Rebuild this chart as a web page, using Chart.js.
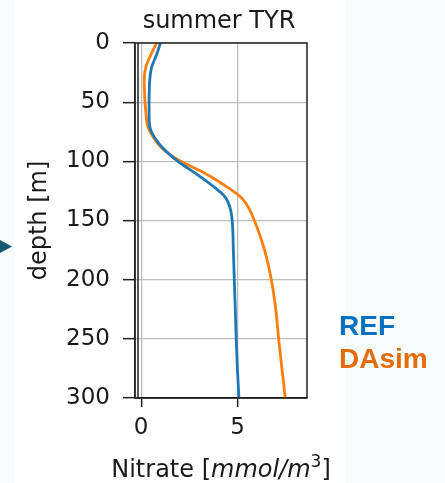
<!DOCTYPE html>
<html><head><meta charset="utf-8">
<script src="https://cdn.jsdelivr.net/npm/chart.js@4/dist/chart.umd.min.js"></script>
<style>html,body{margin:0;padding:0;background:#f7fcfd;overflow:hidden}canvas{display:block}</style>
</head><body>
<canvas id="c" width="445" height="483"></canvas>
<script>
// ---- data ----
const depths       = [0, 10, 20, 30, 40, 50, 60, 70, 80, 90, 100, 110, 120, 130, 140, 150, 175, 200, 225, 250, 275, 300];
const refNitrate   = [1.0, 0.8, 0.55, 0.45, 0.42, 0.41, 0.41, 0.44, 0.7, 1.2, 1.9, 2.8, 3.65, 4.35, 4.62, 4.72, 4.78, 4.83, 4.88, 4.93, 4.99, 5.07];
const dasimNitrate = [0.8, 0.5, 0.25, 0.16, 0.17, 0.2, 0.25, 0.33, 0.65, 1.15, 2.05, 3.3, 4.3, 5.15, 5.6, 5.87, 6.4, 6.75, 6.98, 7.13, 7.3, 7.47];
const depthTicks   = [0, 50, 100, 150, 200, 250, 300];
const nitrateTicks = [0, 5];
const seriesLabels = ['REF', 'DAsim'];
const chartTitle   = 'summer TYR';
const yAxisTitle   = 'depth [m]';
const xTitleParts  = ['Nitrate [', 'mmol/m', '3', ']'];

const TXT = '#1a1a1a';
const FONT = 'DejaVu Sans';

const bgPlugin = {
  id: 'bg',
  beforeDraw(chart) {
    const c = chart.ctx;
    c.save();
    c.fillStyle = '#f7fcfd';
    c.fillRect(0, 0, chart.width, chart.height);
    c.fillStyle = '#ffffff';
    c.fillRect(15, 0, 330, chart.height);
    // small arrow head at left edge
    c.fillStyle = '#175a6f';
    c.beginPath();
    c.moveTo(0, 240); c.lineTo(12, 246.5); c.lineTo(0, 253); c.closePath();
    c.fill();
    c.restore();
  }
};

const framePlugin = {
  id: 'frame',
  afterDraw(chart) {
    const a = chart.chartArea, c = chart.ctx;
    c.save();
    c.strokeStyle = '#222';
    c.lineWidth = 1.5;
    c.strokeRect(a.left, a.top, a.right - a.left, a.bottom - a.top);
    c.beginPath();
    c.moveTo(a.left + 3, a.top); c.lineTo(a.left + 3, a.bottom);
    c.stroke();
    const size = 24;
    const fN = size + 'px "' + FONT + '"';
    const fI = 'italic ' + size + 'px "' + FONT + '"';
    const fS = Math.round(size * 0.7) + 'px "' + FONT + '"';
    c.fillStyle = TXT;
    // title centred over the plot area
    c.font = fN;
    c.textAlign = 'center';
    c.textBaseline = 'alphabetic';
    c.fillText(chartTitle, (a.left + a.right) / 2 - 2, 28);
    // x axis title with italic unit and superscript
    const fonts = [fN, fI, fS, fN];
    let total = 0;
    c.textAlign = 'left';
    const widths = xTitleParts.map((t, i) => { c.font = fonts[i]; const w = c.measureText(t).width; total += w; return w; });
    let x = (a.left + a.right) / 2 - total / 2;
    const base = 477;
    xTitleParts.forEach((t, i) => {
      c.font = fonts[i];
      c.fillText(t, x, i === 2 ? base - 10 : base);
      x += widths[i];
    });
    // series labels
    c.font = 'bold 28px "Liberation Sans"';
    const labelColors = ['#0070C0', '#E46C0A'];
    const baselines = [335, 368];
    seriesLabels.forEach((t, i) => {
      c.fillStyle = labelColors[i];
      c.fillText(t, 339, baselines[i]);
    });
    c.restore();
  }
};

new Chart(document.getElementById('c').getContext('2d'), {
  type: 'line',
  data: {
    datasets: [
      { label: seriesLabels[0], data: depths.map((d, i) => ({ x: refNitrate[i], y: d })),
        borderColor: '#1f77b4', borderWidth: 2.8, pointRadius: 0, fill: false, cubicInterpolationMode: 'monotone' },
      { label: seriesLabels[1], data: depths.map((d, i) => ({ x: dasimNitrate[i], y: d })),
        borderColor: '#ff7f0e', borderWidth: 2.8, pointRadius: 0, fill: false, cubicInterpolationMode: 'monotone' }
    ]
  },
  options: {
    indexAxis: 'y',
    responsive: false,
    animation: false,
    devicePixelRatio: 1,
    layout: { padding: { left: 0, right: 138, top: 43, bottom: 0 } },
    plugins: {
      legend: { display: false },
      tooltip: { enabled: false },
      title: { display: false }
    },
    scales: {
      x: {
        type: 'linear', position: 'bottom', min: -0.32, max: 8.6,
        afterBuildTicks: s => { s.ticks = nitrateTicks.map(v => ({ value: v })); },
        afterFit: s => { s.height = 85; },
        grid: { color: '#bdbdbd', lineWidth: 1.3, tickLength: 9, tickColor: '#222', tickWidth: 1.5 },
        border: { display: true, color: '#222', width: 1.5 },
        ticks: { color: TXT, font: { family: FONT, size: 23 }, padding: 7, maxRotation: 0 }
      },
      y: {
        type: 'linear', position: 'left', reverse: true, min: 0, max: 300,
        afterBuildTicks: s => { s.ticks = depthTicks.map(v => ({ value: v })); },
        afterFit: s => { s.width = 135; },
        grid: { color: '#bdbdbd', lineWidth: 1.3, tickLength: 12, tickColor: '#222', tickWidth: 1.5 },
        border: { display: true, color: '#222', width: 1.5 },
        ticks: { color: TXT, font: { family: FONT, size: 23 }, padding: 13 },
        title: { display: true, text: yAxisTitle, color: TXT,
          font: { family: FONT, size: 24 }, padding: { top: 25, bottom: 0 } }
      }
    }
  },
  plugins: [bgPlugin, framePlugin]
});
</script>
</body></html>
